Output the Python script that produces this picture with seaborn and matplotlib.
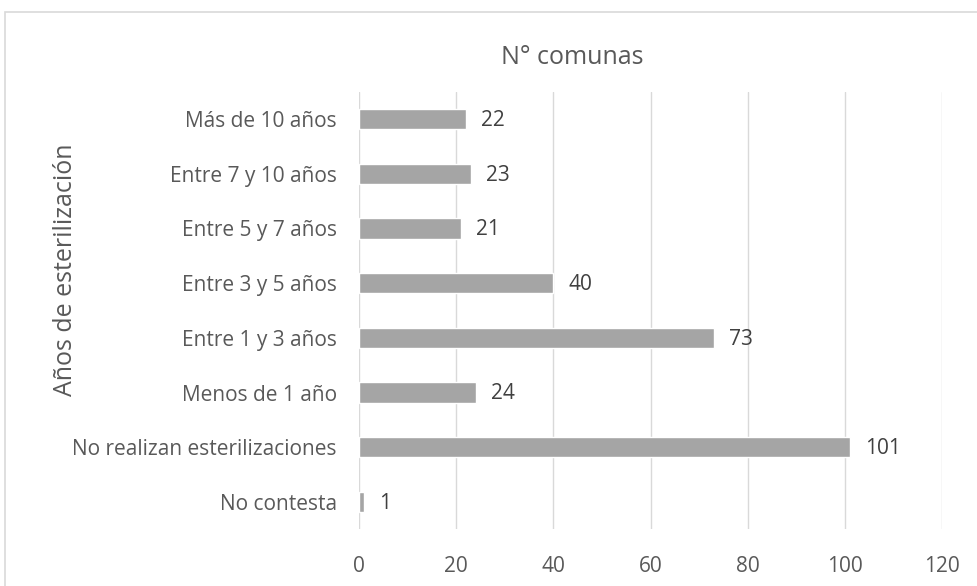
import matplotlib
matplotlib.use("Agg")
import matplotlib.pyplot as plt
import seaborn as sns
import pandas as pd
from matplotlib.patches import Rectangle

categories = ["Más de 10 años", "Entre 7 y 10 años", "Entre 5 y 7 años", "Entre 3 y 5 años",
              "Entre 1 y 3 años", "Menos de 1 año", "No realizan esterilizaciones", "No contesta"]
values = [22, 23, 21, 40, 73, 24, 101, 1]
xticks = [0, 20, 40, 60, 80, 100, 120]

sns.set_theme(style="white")
plt.rcParams['font.family'] = ['Open Sans', 'DejaVu Sans']

df = pd.DataFrame({"cat": categories, "val": values})
fig = plt.figure(figsize=(9.77, 5.86), dpi=100)
ax = fig.add_axes([359/977, 1-529.4/586, (942-359)/977, (529.4-91.6)/586])

sns.barplot(data=df, x="val", y="cat", color="#a5a5a5", saturation=1, width=0.37, ax=ax, zorder=3)
ax.set_xlim(0, 120)
ax.set_xticks(xticks)
ax.set_xticklabels([str(t) for t in xticks])
ax.grid(axis="x", color="#d9d9d9", linewidth=1, zorder=0)
ax.grid(axis="y", visible=False)
for s in ax.spines.values():
    s.set_visible(False)
ax.tick_params(axis="both", length=0, labelsize=15, labelcolor="#595959")
ax.tick_params(axis="y", pad=16)
ax.tick_params(axis="x", pad=19)
ax.set_xlabel("")
ax.set_ylabel("")

for i, v in enumerate(values):
    ax.annotate(str(v), (v, i), xytext=(11, -1), textcoords="offset points",
                va="center", ha="left", fontsize=15, color="#404040")

fig.text(572/977, 1-58/586, "N° comunas", ha="center", va="center", fontsize=18, color="#595959")
fig.text(65/977, 1-270/586, "Años de esterilización", ha="center", va="center", rotation=90,
         fontsize=18, color="#595959")

fig.patches.append(Rectangle((5/977, -0.05), 1.1, 1 - 12/586 + 0.05, transform=fig.transFigure,
                             fill=False, edgecolor="#d9d9d9", linewidth=1.2))

fig.savefig("out.png", dpi=100)
